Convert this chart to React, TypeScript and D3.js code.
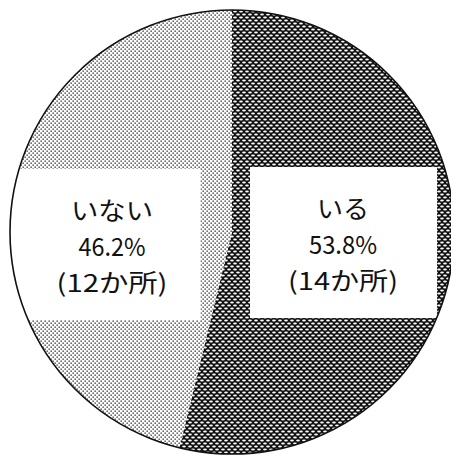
import React from "react";
import * as d3 from "d3";

// Survey answer breakdown
const categories: string[] = ["いる", "いない"];
const percents: number[] = [53.8, 46.2];
const counts: number[] = [14, 12];
const patternIds: string[] = ["meshDark", "dotLight"];

const W = 451;
const H = 459;
const cx = 232;
const cy = 232;
const radius = 222;

// label box geometry per slice (x0, y0, x1, y1), text centre and row centres
const boxes = [
  { x0: 250, y0: 167, x1: 437, y1: 318, tx: 343, rows: [207, 243, 279] },
  { x0: 0, y0: 169, x1: 200.5, y1: 320, tx: 112, rows: [209, 245, 281] },
];
const lineWidths = [
  [52, 68, 110],
  [82, 67, 111],
];

export default function App() {
  const pie = d3
    .pie<number>()
    .sort(null)
    .value((d) => d)
    .startAngle(0)
    .endAngle(2 * Math.PI);
  const arcs = pie(percents);
  const arcGen = d3.arc<d3.PieArcDatum<number>>().innerRadius(0).outerRadius(radius);

  const font = "'Noto Sans CJK JP', sans-serif";

  return (
    <svg
      width={W}
      height={H}
      style={{ position: "absolute", left: 0, top: 0, display: "block", background: "#fff" }}
    >
      <defs>
        <pattern id="meshDark" width={6} height={6} patternUnits="userSpaceOnUse">
          <rect width={6} height={6} fill="#111" />
          <ellipse cx={3} cy={1.5} rx={1.9} ry={1.05} fill="#fff" />
          <ellipse cx={0} cy={4.5} rx={1.9} ry={1.05} fill="#fff" />
          <ellipse cx={6} cy={4.5} rx={1.9} ry={1.05} fill="#fff" />
        </pattern>
        <pattern id="dotLight" width={4} height={4} patternUnits="userSpaceOnUse">
          <rect width={4} height={4} fill="#fff" />
          <rect x={0.5} y={0.5} width={1.3} height={1.3} fill="#222" />
          <rect x={2.5} y={2.5} width={1.3} height={1.3} fill="#222" />
        </pattern>
        <clipPath id="pieClip">
          <circle cx={cx} cy={cy} r={radius} />
        </clipPath>
      </defs>

      <g transform={`translate(${cx},${cy})`}>
        {arcs.map((a, i) => (
          <path key={categories[i]} d={arcGen(a) || ""} fill={`url(#${patternIds[i]})`} />
        ))}
      </g>

      <g clipPath="url(#pieClip)">
        {boxes.map((b, i) => (
          <rect
            key={`box-${i}`}
            x={b.x0}
            y={b.y0}
            width={b.x1 - b.x0}
            height={b.y1 - b.y0}
            fill="#fff"
          />
        ))}
      </g>

      <circle cx={cx} cy={cy} r={radius} fill="none" stroke="#111" strokeWidth={1.6} />

      {boxes.map((b, i) => {
        const lines = [categories[i], `${percents[i].toFixed(1)}%`, `(${counts[i]}か所)`];
        return (
          <g key={`label-${i}`} fontFamily={font} fontSize={24.5} fill="#111">
            {lines.map((t, j) => (
              <text
                key={j}
                x={b.tx - lineWidths[i][j] / 2}
                y={b.rows[j]}
                dominantBaseline="central"
                textLength={lineWidths[i][j]}
                lengthAdjust="spacingAndGlyphs"
              >
                {t}
              </text>
            ))}
          </g>
        );
      })}
    </svg>
  );
}
